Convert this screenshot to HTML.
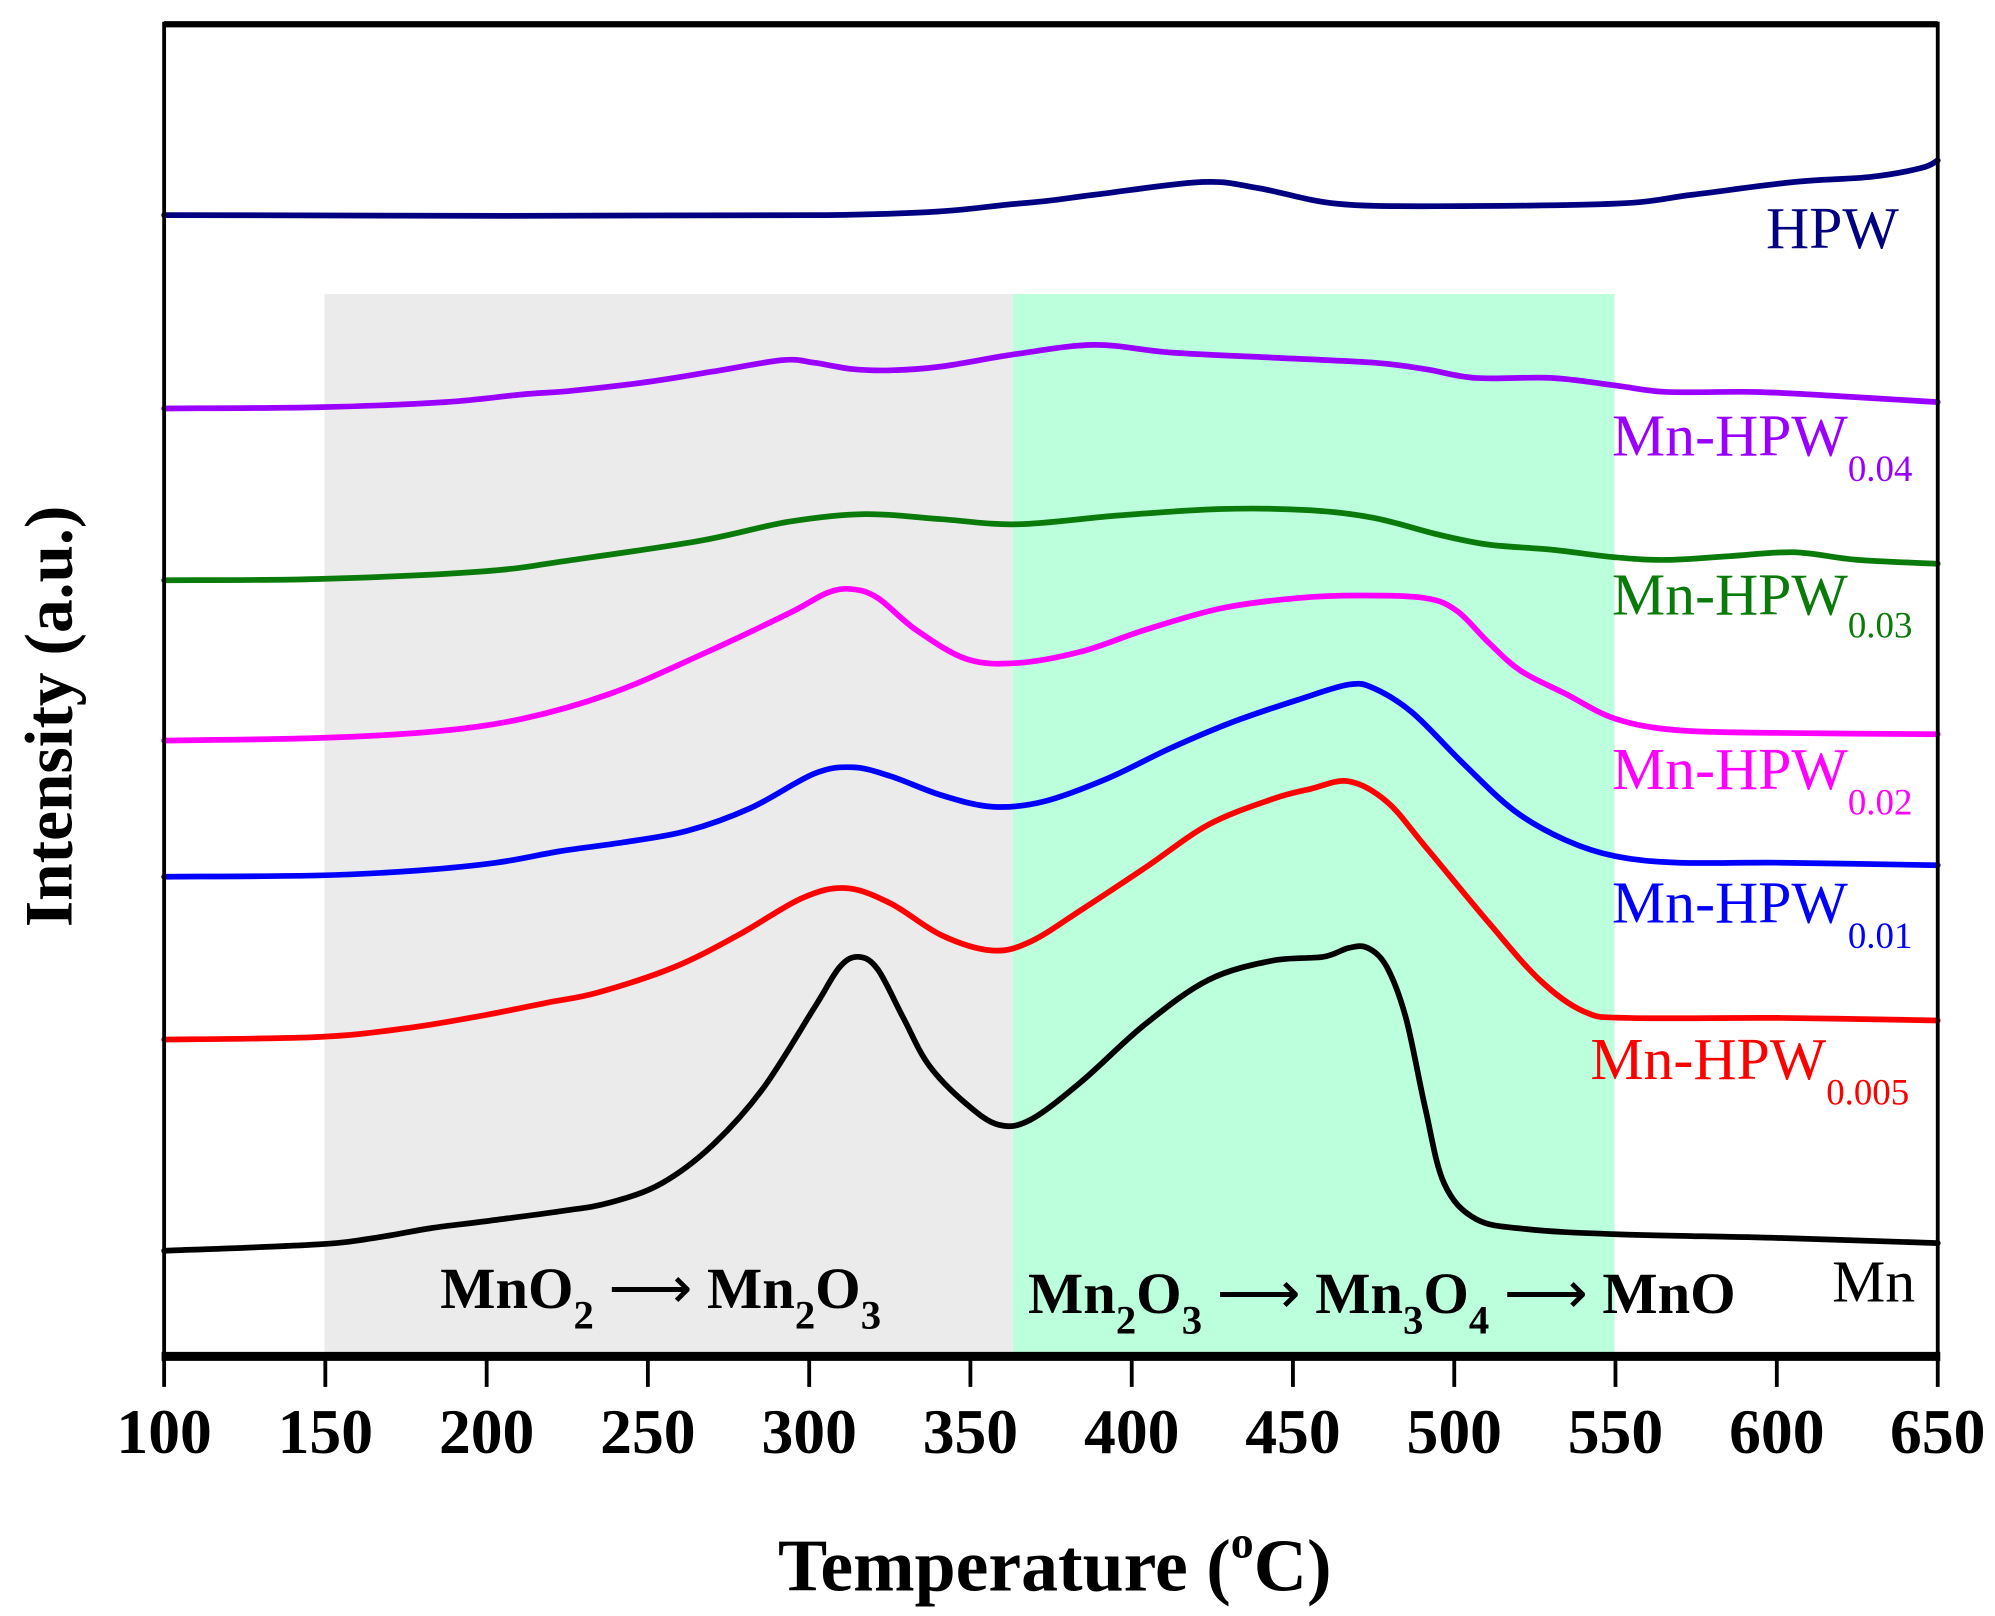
<!DOCTYPE html>
<html><head><meta charset="utf-8"><style>html,body{margin:0;padding:0;background:#fff}svg{display:block}</style></head>
<body>
<svg id="s" width="1995" height="1616" viewBox="0 0 1568 1270" xmlns="http://www.w3.org/2000/svg" font-family="'Liberation Serif', serif">
<rect x="0" y="0" width="1568" height="1270" fill="#fff"/>
<rect x="255" y="231" width="541" height="833" fill="#ebebeb"/>
<rect x="796" y="231" width="473" height="833" fill="#bbffdd"/>
<g id="curves" fill="none" stroke-width="4.5" stroke-linejoin="round" stroke-linecap="round">
<polyline stroke="#000080" points="129,169 650,169 800,160 860,153 945,143 990,148 1050,160 1130,162 1270,160 1330,153 1410,143 1470,139 1510,132 1523,126"/>
<polyline stroke="#9900ff" points="129,321 250,320 350,316 410,310 450,307 510,300 560,292 615,283 640,285 670,290 700,291 740,288 800,278 860,271 920,277 1000,281 1080,285 1120,290 1160,297 1220,297 1270,303 1310,308 1380,308 1440,311 1523,316"/>
<polyline stroke="#0a7a0a" points="129,456 250,455 380,449 450,440 550,425 620,410 680,404 740,408 800,412 880,405 960,400 1030,401 1080,407 1130,420 1170,428 1220,432 1270,438 1310,440 1360,437 1410,434 1460,440 1523,443"/>
<polyline stroke="#ff00ff" points="129,582 250,580 340,575 410,565 480,545 550,515 620,482 650,466 670,463 690,470 720,495 760,518 800,521 850,512 900,495 960,478 1020,470 1070,468 1120,470 1145,480 1170,505 1195,527 1230,545 1270,565 1320,574 1400,576 1523,577"/>
<polyline stroke="#0000ff" points="129,689 250,688 330,684 390,678 440,669 490,662 540,653 590,635 640,608 670,603 700,610 740,625 780,634 820,630 870,612 920,588 970,567 1020,550 1060,538 1080,541 1110,560 1150,600 1190,637 1230,660 1270,673 1320,678 1400,678 1523,680"/>
<polyline stroke="#ff0000" points="129,817 250,815 320,808 380,798 430,788 470,780 530,760 580,735 630,706 665,698 700,710 740,735 780,747 810,740 850,715 900,682 950,648 1000,628 1030,620 1060,614 1090,630 1120,665 1170,725 1210,770 1245,795 1280,800 1400,800 1523,802"/>
<polyline stroke="#000000" points="129,983 250,978 300,972 340,965 380,960 440,952 480,945 520,930 560,900 600,855 640,792 660,760 675,752 690,762 710,800 730,837 760,868 785,884 810,880 850,850 900,805 950,770 1000,755 1040,752 1060,745 1075,745 1090,760 1105,800 1120,870 1135,930 1160,958 1200,966 1270,970 1400,973 1523,977"/>
</g>
<g stroke="#000" fill="none">
<line x1="129" y1="19" x2="1523" y2="19" stroke-width="5"/>
<line x1="129" y1="17" x2="129" y2="1070" stroke-width="3"/>
<line x1="1523" y1="17" x2="1523" y2="1070" stroke-width="3"/>
<line x1="127" y1="1066" x2="1525" y2="1066" stroke-width="7"/>
<g stroke-width="3">
<line x1="129" y1="1066" x2="129" y2="1090"/><line x1="255.7" y1="1066" x2="255.7" y2="1090"/><line x1="382.5" y1="1066" x2="382.5" y2="1090"/><line x1="509.2" y1="1066" x2="509.2" y2="1090"/><line x1="636" y1="1066" x2="636" y2="1090"/><line x1="762.7" y1="1066" x2="762.7" y2="1090"/><line x1="889.5" y1="1066" x2="889.5" y2="1090"/><line x1="1016.2" y1="1066" x2="1016.2" y2="1090"/><line x1="1143" y1="1066" x2="1143" y2="1090"/><line x1="1269.7" y1="1066" x2="1269.7" y2="1090"/><line x1="1396.5" y1="1066" x2="1396.5" y2="1090"/><line x1="1523" y1="1066" x2="1523" y2="1090"/>
</g></g>
<g font-size="50" font-weight="bold" text-anchor="middle" fill="#000">
<text x="129" y="1142">100</text><text x="255.7" y="1142">150</text><text x="382.5" y="1142">200</text><text x="509.2" y="1142">250</text><text x="636" y="1142">300</text><text x="762.7" y="1142">350</text><text x="889.5" y="1142">400</text><text x="1016.2" y="1142">450</text><text x="1143" y="1142">500</text><text x="1269.7" y="1142">550</text><text x="1396.5" y="1142">600</text><text x="1523" y="1142">650</text>
</g>
<text x="829" y="1250" font-size="58" font-weight="bold" text-anchor="middle">Temperature (<tspan font-size="36" dy="-26">o</tspan><tspan dy="26">C)</tspan></text>
<text transform="translate(56,563) rotate(-90)" font-size="53" font-weight="bold" text-anchor="middle">Intensity (a.u.)</text>
<g font-size="47">
<text x="1388" y="195" fill="#000080">HPW</text>
<text x="1267" y="358" fill="#9900ff">Mn-HPW<tspan font-size="29" dy="20">0.04</tspan></text>
<text x="1267" y="483" fill="#0a7a0a">Mn-HPW<tspan font-size="29" dy="18">0.03</tspan></text>
<text x="1267" y="620" fill="#ff00ff">Mn-HPW<tspan font-size="29" dy="20">0.02</tspan></text>
<text x="1267" y="725" fill="#0000ff">Mn-HPW<tspan font-size="29" dy="20">0.01</tspan></text>
<text x="1250" y="848" fill="#ff0000">Mn-HPW<tspan font-size="29" dy="20">0.005</tspan></text>
<text x="1440" y="1023" fill="#000">Mn</text>
</g>
<g font-size="46" font-weight="bold" fill="#000">
<text x="346" y="1028">MnO<tspan font-size="32" dy="16">2</tspan><tspan dy="-16"> </tspan><tspan font-weight="normal">⟶</tspan><tspan> Mn</tspan><tspan font-size="32" dy="16">2</tspan><tspan dy="-16">O</tspan><tspan font-size="32" dy="16">3</tspan></text>
<text x="808" y="1032">Mn<tspan font-size="32" dy="16">2</tspan><tspan dy="-16">O</tspan><tspan font-size="32" dy="16">3</tspan><tspan dy="-16"> </tspan><tspan font-weight="normal">⟶</tspan><tspan> Mn</tspan><tspan font-size="32" dy="16">3</tspan><tspan dy="-16">O</tspan><tspan font-size="32" dy="16">4</tspan><tspan dy="-16">  </tspan><tspan font-weight="normal">⟶</tspan><tspan> MnO</tspan></text>
</g>
</svg>
<script>
document.querySelectorAll('#curves polyline').forEach(function(pl){
  var p=pl.getAttribute('points').trim().split(/\s+/).map(function(s){return s.split(',').map(Number);});
  var d='M'+p[0][0]+','+p[0][1];
  for(var i=0;i<p.length-1;i++){
    var p0=p[i-1]||p[i],p1=p[i],p2=p[i+1],p3=p[i+2]||p2;
    var c1x=p1[0]+(p2[0]-p0[0])/6,c1y=p1[1]+(p2[1]-p0[1])/6;
    var c2x=p2[0]-(p3[0]-p1[0])/6,c2y=p2[1]-(p3[1]-p1[1])/6;
    d+=' C'+c1x.toFixed(1)+','+c1y.toFixed(1)+' '+c2x.toFixed(1)+','+c2y.toFixed(1)+' '+p2[0]+','+p2[1];
  }
  var path=document.createElementNS('http://www.w3.org/2000/svg','path');
  path.setAttribute('d',d);path.setAttribute('stroke',pl.getAttribute('stroke'));
  pl.parentNode.replaceChild(path,pl);
});
</script>
</body></html>
